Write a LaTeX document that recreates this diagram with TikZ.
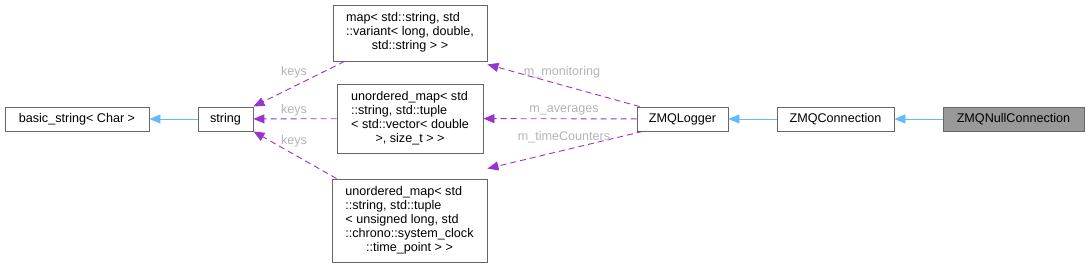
\documentclass[tikz,border=0pt]{standalone}
\usepackage{fontspec}
\setmainfont{Liberation Sans}
\usetikzlibrary{arrows.meta}
\definecolor{boxline}{HTML}{666666}
\definecolor{inhblue}{HTML}{63B8FF}
\definecolor{usepurple}{HTML}{9A32CD}
\definecolor{lblgray}{HTML}{B4B4B4}
\definecolor{curfill}{HTML}{999999}
\begin{document}
\begin{tikzpicture}[x=1pt,y=-1pt,
  cls/.style={draw=boxline, line width=0.9pt, fill=white, inner sep=0pt, anchor=center,
    font=\fontsize{12.6}{14}\selectfont, text=black},
  cur/.style={cls, fill=curfill},
  inh/.style={draw=inhblue, line width=0.9pt, -{Triangle[length=11pt,width=9pt]}},
  usg/.style={draw=usepurple, line width=0.9pt, dash pattern=on 6pt off 4pt, -{Triangle[length=11pt,width=9pt]}},
  lbl/.style={font=\fontsize{12.6}{14}\selectfont, text=lblgray, inner sep=0pt}]
\useasboundingbox (0,0) rectangle (1089,268);
\renewcommand{\arraystretch}{1}
% nodes
\node[cls, minimum width=144pt, minimum height=24pt] (bs) at (77,119) {basic\_string< Char >};
\node[cls, minimum width=55pt, minimum height=24pt] (str) at (225.5,119) {string};
\node[cls, minimum width=154pt, minimum height=56pt] (map) at (410,33)
  {\begin{tabular}{@{}l@{}}map< std::string, std\\::variant< long, double,\\\multicolumn{1}{@{}c@{}}{std::string > >}\end{tabular}};
\node[cls, minimum width=146pt, minimum height=69pt] (um1) at (410,118.5)
  {\begin{tabular}{@{}l@{}}unordered\_map< std\\::string, std::tuple\\< std::vector< double\\\multicolumn{1}{@{}c@{}}{>, size\_t > >}\end{tabular}};
\node[cls, minimum width=155pt, minimum height=83pt] (um2) at (409.5,220.5)
  {\begin{tabular}{@{}l@{}}unordered\_map< std\\::string, std::tuple\\< unsigned long, std\\::chrono::system\_clock\\\multicolumn{1}{@{}c@{}}{::time\_point > >}\end{tabular}};
\node[cls, minimum width=91pt, minimum height=24pt] (log) at (682.5,119) {ZMQLogger};
\node[cls, minimum width=117pt, minimum height=24pt] (con) at (835.5,119) {ZMQConnection};
\node[cur, minimum width=141pt, minimum height=24pt] (nul) at (1013.5,119) {ZMQNullConnection};
% points
\coordinate (mapA) at ([xshift=12pt]map.south west);
\coordinate (um2A) at ([xshift=5pt]um2.north west);
\coordinate (logA) at ([xshift=3pt]log.north west);
\coordinate (logB) at ([xshift=6pt]log.south west);
\coordinate (mapB) at ([yshift=-3pt]map.south east);
\coordinate (um2B) at ([yshift=10pt]um2.north east);
% inheritance
\draw[inh] (str) -- (bs);
\draw[inh] (con) -- (log);
\draw[inh] (nul) -- (con);
% usage
\draw[usg] (mapA) -- (str.north east);
\draw[usg] (um1) -- (str);
\draw[usg] (um2A) -- (str.south east);
\draw[usg] (logA) -- (mapB);
\draw[usg] (log) -- (um1);
\draw[usg] (logB) -- (um2B);
% labels
\node[lbl] (k1) at (294,72) {keys};
\node[lbl] (k2) at (294,110) {keys};
\node[lbl] (k3) at (294,141) {keys};
\node[lbl] (l1) at (562,72) {m\_monitoring};
\node[lbl] (l2) at (564,110) {m\_averages};
\node[lbl] (l3) at (564,137) {m\_timeCounters};
\end{tikzpicture}
\end{document}
